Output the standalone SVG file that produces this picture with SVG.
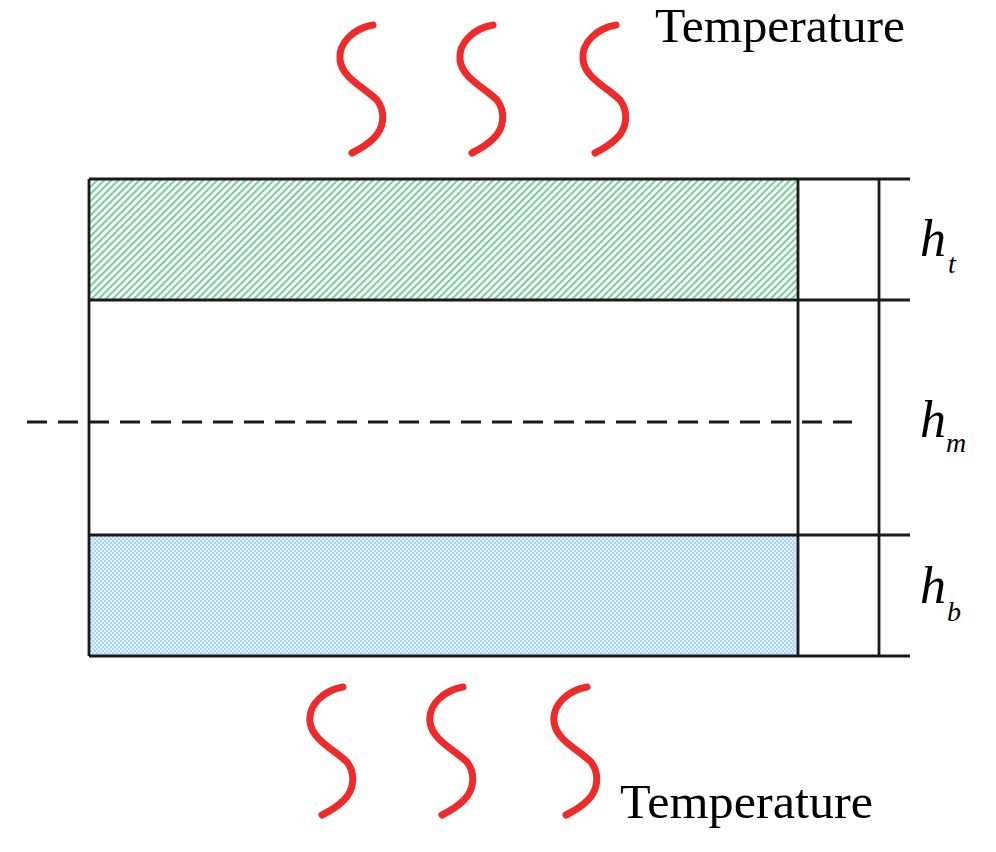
<svg xmlns="http://www.w3.org/2000/svg" xmlns:xlink="http://www.w3.org/1999/xlink" width="996" height="852" viewBox="0 0 996 852">
<style>
.ln{stroke:#1a1a1a;stroke-width:2.8;fill:none}
.wave{stroke:#ee2a2a;stroke-width:7;fill:none;stroke-linecap:round}
.lbl{font-family:"Liberation Serif",serif;fill:#000}
.sym{font-family:"Liberation Serif",serif;font-style:italic;fill:#000}
</style>
<defs>
<pattern id="green" width="5" height="5" patternUnits="userSpaceOnUse" patternTransform="rotate(45)">
<rect width="5" height="5" fill="#ffffff"/>
<rect width="2.2" height="5" fill="#7fcc9e"/>
</pattern>
<pattern id="blue" width="4" height="4" patternUnits="userSpaceOnUse">
<rect width="4" height="4" fill="#e2f1fc"/>
<rect width="2" height="2" fill="#a8d3f3"/>
<rect x="2" y="2" width="2" height="2" fill="#a8d3f3"/>
</pattern>
<path id="w" class="wave" d="M373,25 C355,28 338,42 340,60 C342,78 365,88 377,100 C386,112 384,128 374,138 C366,146 358,150 352,153"/>
</defs>
<rect width="996" height="852" fill="#fff"/>
<g id="top-layer"><rect x="89" y="179" width="709" height="121" fill="url(#green)"/></g>
<g id="bottom-layer"><rect x="89" y="535" width="709" height="121" fill="url(#blue)"/></g>
<g id="connectors">
<line class="ln" x1="89" y1="179" x2="910" y2="179"/>
<line class="ln" x1="89" y1="300" x2="910" y2="300"/>
<line class="ln" x1="89" y1="535" x2="910" y2="535"/>
<line class="ln" x1="89" y1="656" x2="910" y2="656"/>
<line class="ln" x1="89" y1="179" x2="89" y2="656"/>
<line class="ln" x1="798" y1="179" x2="798" y2="656"/>
<line class="ln" x1="879" y1="179" x2="879" y2="656"/>
<line class="ln" x1="27" y1="422" x2="852" y2="422" stroke-dasharray="20,11"/>
</g>
<g id="waves-top">
<use xlink:href="#w"/>
<use xlink:href="#w" x="120"/>
<use xlink:href="#w" x="243"/>
</g>
<g id="waves-bottom">
<use xlink:href="#w" x="-30" y="662"/>
<use xlink:href="#w" x="90" y="662"/>
<use xlink:href="#w" x="214" y="662"/>
</g>
<g id="labels">
<text class="lbl" x="655" y="42" font-size="48" textLength="250" lengthAdjust="spacingAndGlyphs">Temperature</text>
<text class="lbl" x="620" y="818" font-size="48" textLength="253" lengthAdjust="spacingAndGlyphs">Temperature</text>
<text class="sym" x="920" y="256" font-size="52">h</text>
<text class="sym" x="948" y="273" font-size="28">t</text>
<text class="sym" x="920" y="437" font-size="52">h</text>
<text class="sym" x="946" y="452" font-size="28">m</text>
<text class="sym" x="920" y="603" font-size="52">h</text>
<text class="sym" x="947" y="621" font-size="28">b</text>
</g>
</svg>
